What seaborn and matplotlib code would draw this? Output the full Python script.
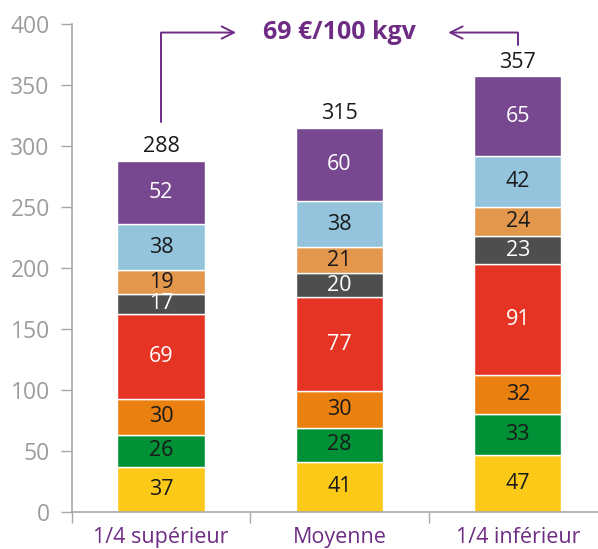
import matplotlib
matplotlib.use("Agg")
import matplotlib.pyplot as plt
import seaborn as sns
import numpy as np
import pandas as pd

categories = ["1/4 supérieur", "Moyenne", "1/4 inférieur"]
yellow = [37, 41, 47]
green = [26, 28, 33]
orange = [30, 30, 32]
red = [69, 77, 91]
darkgray = [17, 20, 23]
lightorange = [19, 21, 24]
lightblue = [38, 38, 42]
purple = [52, 60, 65]
totals = [288, 315, 357]
annotation = "69 €/100 kgv"
yticks = [0, 50, 100, 150, 200, 250, 300, 350, 400]

series = [yellow, green, orange, red, darkgray, lightorange, lightblue, purple]
colors = ["#FDC918", "#009036", "#EA800F", "#E53423", "#4E4E4E", "#E3974C", "#93C4DC", "#77478F"]
text_colors = ["#1a1a1a", "#1a1a1a", "#1a1a1a", "white", "white", "#1a1a1a", "#1a1a1a", "white"]

sns.set_theme(style="white")
plt.rcParams["font.family"] = ["Open Sans", "DejaVu Sans"]

fig = plt.figure(figsize=(5.98, 5.49), dpi=100)
ax = fig.add_axes([72 / 598, 1 - 512 / 549, 1 - 72 / 598, (512 - 24) / 549])

bottom = np.zeros(3)
for vals, c, tc in zip(series, colors, text_colors):
    df = pd.DataFrame({"cat": categories, "val": vals})
    sns.barplot(data=df, x="cat", y="val", bottom=bottom, color=c, width=0.49,
                edgecolor="white", linewidth=1.0, ax=ax, saturation=1)
    for i, v in enumerate(vals):
        ax.text(i, bottom[i] + v / 2, str(v), ha="center", va="center",
                fontsize=15.5, color=tc)
    bottom = bottom + np.array(vals)

for i, t in enumerate(totals):
    ax.text(i, t + 3, str(t), ha="center", va="bottom", fontsize=15.5, color="#1a1a1a")

ax.set_xlim(-0.5, 2.45)
ax.set_ylim(0, 400)
ax.set_yticks(yticks)
ax.set_xlabel("")
ax.set_ylabel("")
ax.set_xticks([0, 1, 2])
ax.set_xticklabels(categories, color="#6E2C85", fontsize=15.5)
ax.set_xticks([-0.5, 0.5, 1.5], minor=True)
ax.tick_params(axis="x", which="major", length=0, pad=11)
ax.tick_params(axis="x", which="minor", length=8, width=1, color="#A8A8A8", direction="out", bottom=True)
ax.tick_params(axis="y", length=8, width=1, color="#A8A8A8", direction="out", left=True,
               labelcolor="#9D9D9D", labelsize=16.5, pad=8)

for s in ["top", "right"]:
    ax.spines[s].set_visible(False)
for s in ["left", "bottom"]:
    ax.spines[s].set_color("#A8A8A8")
    ax.spines[s].set_linewidth(1.2)

pc = "#6E2C85"
# left arrow: from bar 1 top up and right to text
ax.plot([0, 0], [320, 393], color=pc, lw=1.4, clip_on=False)
ax.annotate("", xy=(0.42, 393), xytext=(0, 393),
            arrowprops=dict(arrowstyle="->", color=pc, lw=1.4, mutation_scale=22,
                            shrinkA=0, shrinkB=0), annotation_clip=False)
# right arrow
ax.plot([2, 2], [383, 393], color=pc, lw=1.4, clip_on=False)
ax.annotate("", xy=(1.61, 393), xytext=(2, 393),
            arrowprops=dict(arrowstyle="->", color=pc, lw=1.4, mutation_scale=22,
                            shrinkA=0, shrinkB=0), annotation_clip=False)
ax.text(1.0, 393, annotation, ha="center", va="center", fontsize=18,
        fontweight="bold", color=pc, clip_on=False)

fig.savefig("out.png", dpi=100)
